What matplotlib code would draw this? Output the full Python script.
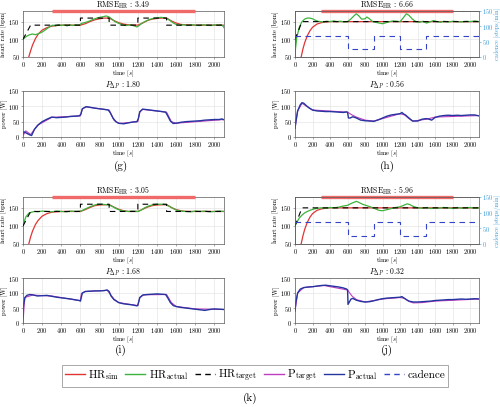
import matplotlib
matplotlib.use("Agg")
import matplotlib.pyplot as plt
from matplotlib.lines import Line2D

plt.rcParams['font.family'] = 'cmr10'
plt.rcParams['mathtext.fontset'] = 'cm'
plt.rcParams['axes.formatter.use_mathtext'] = True

# ---------------------------------------------------------------
# data
# ---------------------------------------------------------------
region_t = [300, 1800]          # red bar on top of HR plots
cad_t = [0, 600, 600, 900, 900, 1200, 1200, 1500, 1500, 2100]
cad_v = [70, 70, 25, 25, 70, 70, 25, 25, 70, 70]

titles_hr = ['3.49', '6.66', '3.05', '5.96']
titles_p = ['1.80', '0.56', '1.68', '0.32']
sub_labels = ['(g)', '(h)', '(i)', '(j)']

# targets
step_t = [0, 80, 600, 600, 900, 900, 1200, 1200, 1500, 1500, 2100]
step_v = [100, 140, 140, 160, 160, 140, 140, 160, 160, 140, 140]
flat_t = [0, 80, 2100]
flat_v = [100, 150, 150]

# (g)
g_sim_t = [40, 60, 80, 100, 130, 160, 200, 250, 300, 350,
           400, 500, 600, 650, 700, 750, 800, 850, 900, 950,
           1000, 1050, 1100, 1200, 1250, 1300, 1350, 1400, 1450, 1500,
           1550, 1600, 1650, 1700, 1800, 2100]
g_sim = [30, 50, 68, 84, 102, 115, 126, 133, 137, 139,
         140, 140, 140, 144, 150, 155, 158, 160, 160, 153,
         147, 143, 141, 140, 146, 153, 157, 159, 160, 160,
         152, 146, 142, 141, 140, 140]
g_act_t = [0, 0, 15, 40, 70, 100, 130, 160, 190, 220,
           250, 280, 310, 340, 370, 400, 430, 460, 490, 520,
           550, 580, 600, 610, 640, 680, 720, 760, 800, 840,
           870, 900, 930, 960, 1000, 1040, 1080, 1120, 1160, 1190,
           1210, 1240, 1280, 1320, 1360, 1400, 1440, 1480, 1510, 1540,
           1570, 1600, 1640, 1680, 1720, 1760, 1800, 1840, 1880, 1920,
           1960, 2000, 2040, 2070, 2090, 2100]
g_act = [50, 100, 104, 109, 113, 115, 113, 116, 119, 124,
         130, 136, 140, 138, 141, 139, 141, 138, 141, 139,
         141, 140, 142, 145, 147, 150, 155, 159, 162, 164,
         166, 163, 157, 150, 145, 141, 139, 141, 138, 135,
         138, 145, 151, 156, 159, 161, 162, 161, 158, 152,
         146, 142, 140, 141, 139, 141, 140, 139, 141, 140,
         139, 141, 140, 141, 137, 133]
g_pa_t = [0, 10, 40, 70, 90, 120, 160, 200, 250, 300,
          350, 400, 450, 500, 550, 590, 605, 620, 660, 700,
          750, 800, 850, 890, 910, 940, 970, 1000, 1050, 1100,
          1150, 1190, 1205, 1220, 1250, 1300, 1350, 1400, 1450, 1490,
          1510, 1540, 1570, 1600, 1650, 1700, 1750, 1800, 1850, 1900,
          1950, 2000, 2050, 2080, 2100]
g_pa = [12, 17, 12, 7, 5, 25, 40, 50, 58, 65,
        63, 64, 65, 67, 68, 69, 75, 92, 99, 97,
        94, 92, 90, 88, 80, 62, 50, 45, 43, 46,
        49, 50, 60, 82, 91, 89, 87, 85, 83, 81,
        70, 52, 44, 45, 48, 50, 51, 52, 53, 55,
        56, 57, 57, 59, 56]
g_pt_t = [0, 30, 80, 150, 300, 600, 620, 660, 900, 950,
          1000, 1200, 1220, 1250, 1500, 1550, 1600, 2100]
g_pt = [5, 20, 8, 38, 64, 69, 92, 98, 88, 55,
        44, 50, 82, 90, 81, 50, 45, 57]

# (h)
h_sim_t = [50, 70, 90, 110, 140, 170, 200, 250, 300, 350, 400, 500, 2100]
h_sim = [30, 50, 72, 90, 110, 124, 134, 143, 147, 149, 150, 150, 150]
h_act_t = [0, 0, 20, 50, 80, 110, 140, 170, 200, 230,
           260, 290, 320, 360, 400, 440, 480, 520, 560, 600,
           640, 680, 700, 730, 760, 800, 820, 850, 880, 920,
           960, 1000, 1040, 1080, 1120, 1160, 1200, 1240, 1270, 1300,
           1340, 1380, 1420, 1460, 1500, 1540, 1580, 1620, 1660, 1700,
           1750, 1800, 1850, 1900, 1950, 2000, 2050, 2100]
h_act = [50, 60, 105, 135, 150, 157, 160, 160, 158, 154,
         151, 150, 149, 151, 150, 152, 150, 151, 149, 150,
         158, 168, 172, 166, 157, 158, 163, 158, 151, 148,
         146, 144, 147, 150, 152, 151, 150, 162, 172, 168,
         157, 150, 148, 151, 146, 149, 153, 150, 148, 151,
         149, 151, 150, 149, 151, 150, 152, 150]
h_pa_t = [0, 10, 30, 60, 80, 100, 130, 160, 200, 250,
          300, 350, 400, 450, 500, 550, 590, 600, 610, 630,
          660, 700, 750, 800, 850, 900, 950, 1000, 1050, 1100,
          1150, 1200, 1220, 1240, 1260, 1300, 1340, 1400, 1450, 1500,
          1530, 1560, 1600, 1650, 1700, 1750, 1800, 1850, 1900, 1950,
          2000, 2050, 2080, 2100]
h_pa = [28, 50, 85, 105, 112, 110, 102, 95, 88, 85,
        84, 83, 83, 82, 81, 80, 82, 80, 62, 62,
        66, 62, 55, 53, 52, 51, 56, 62, 68, 72,
        74, 76, 80, 75, 72, 62, 52, 52, 58, 60,
        58, 55, 64, 68, 70, 71, 70, 71, 70, 71,
        72, 72, 70, 69]
h_pt_t = [0, 30, 80, 200, 600, 650, 700, 800, 900, 1200,
          1250, 1300, 1350, 1500, 1600, 2100]
h_pt = [28, 85, 110, 88, 81, 72, 65, 55, 52, 76,
        72, 60, 52, 58, 65, 70]

# (i)
i_sim_t = [40, 60, 80, 100, 130, 160, 200, 250, 300, 350,
           400, 600, 650, 700, 750, 800, 900, 950, 1000, 1050,
           1100, 1200, 1250, 1300, 1350, 1400, 1500, 1550, 1600, 1650,
           1700, 2100]
i_sim = [30, 50, 70, 86, 104, 116, 127, 134, 138, 139,
         140, 140, 145, 151, 156, 158, 159, 152, 146, 142,
         140, 140, 146, 152, 156, 158, 159, 151, 145, 142,
         140, 140]
i_act_t = [0, 0, 10, 30, 60, 90, 120, 150, 200, 250,
           300, 350, 400, 450, 500, 550, 600, 620, 660, 700,
           740, 780, 820, 860, 900, 940, 980, 1020, 1060, 1100,
           1150, 1200, 1230, 1270, 1310, 1350, 1400, 1450, 1490, 1530,
           1570, 1610, 1650, 1700, 1750, 1800, 1850, 1900, 1950, 2000,
           2050, 2100]
i_act = [50, 100, 110, 125, 135, 138, 140, 139, 141, 140,
         139, 141, 140, 139, 141, 140, 141, 143, 148, 153,
         157, 160, 160, 159, 158, 153, 147, 143, 141, 140,
         141, 140, 143, 150, 155, 158, 160, 160, 159, 154,
         148, 143, 141, 140, 139, 141, 140, 141, 139, 140,
         141, 140]
i_pa_t = [0, 5, 20, 40, 70, 100, 150, 200, 250, 300,
          350, 400, 450, 500, 550, 590, 600, 620, 650, 700,
          750, 800, 850, 880, 900, 920, 950, 1000, 1050, 1100,
          1150, 1190, 1200, 1220, 1250, 1300, 1350, 1400, 1450, 1490,
          1510, 1540, 1570, 1600, 1650, 1700, 1750, 1800, 1850, 1900,
          1950, 2000, 2050, 2100]
i_pa = [20, 60, 85, 92, 95, 94, 90, 91, 92, 89,
        86, 84, 82, 80, 77, 75, 73, 100, 105, 106,
        107, 107, 108, 110, 105, 90, 78, 68, 64, 62,
        60, 57, 60, 85, 93, 95, 96, 97, 96, 95,
        85, 68, 58, 55, 52, 50, 48, 46, 44, 42,
        45, 47, 46, 45]
i_pt_t = [0, 10, 20, 100, 300, 600, 610, 650, 880, 950,
          1000, 1200, 1220, 1260, 1500, 1550, 1600, 1800, 2100]
i_pt = [0, 50, 85, 93, 90, 74, 98, 105, 109, 80,
        68, 58, 84, 94, 95, 68, 55, 47, 45]

# (j)
j_act_t = [0, 0, 20, 50, 80, 110, 140, 180, 220, 260,
           300, 350, 400, 450, 500, 550, 600, 640, 680, 700,
           730, 770, 820, 870, 920, 960, 1000, 1050, 1100, 1150,
           1200, 1250, 1280, 1310, 1350, 1400, 1450, 1500, 1550, 1600,
           1650, 1700, 1750, 1800, 1850, 1900, 1950, 2000, 2050, 2100]
j_act = [50, 100, 110, 122, 130, 136, 140, 144, 147, 149,
         150, 149, 151, 150, 152, 155, 157, 162, 166, 168,
         165, 160, 156, 152, 147, 143, 142, 145, 148, 151,
         153, 158, 161, 159, 154, 150, 149, 151, 148, 150,
         149, 151, 150, 148, 151, 149, 150, 151, 149, 150]
j_pa_t = [0, 10, 30, 60, 100, 150, 200, 250, 300, 350,
          400, 450, 500, 550, 590, 600, 605, 620, 640, 660,
          700, 750, 800, 850, 900, 950, 1000, 1050, 1100, 1150,
          1200, 1220, 1240, 1270, 1300, 1350, 1400, 1450, 1500, 1550,
          1600, 1650, 1700, 1750, 1800, 1850, 1900, 1950, 2000, 2050,
          2100]
j_pa = [40, 70, 100, 113, 118, 120, 121, 123, 125, 126,
        124, 122, 120, 117, 113, 110, 62, 70, 80, 82,
        76, 72, 70, 71, 74, 78, 81, 83, 84, 85,
        86, 88, 84, 78, 73, 70, 70, 71, 72, 73,
        75, 76, 77, 78, 78, 79, 80, 79, 80, 81,
        80]
j_pt_t = [0, 30, 100, 330, 600, 650, 700, 800, 1000, 1200,
          1250, 1300, 1350, 1450, 1600, 2100]
j_pt = [40, 100, 118, 125, 110, 90, 78, 70, 80, 85,
        82, 72, 67, 68, 73, 80]

# ---------------------------------------------------------------
# style
# ---------------------------------------------------------------
C_SIM = '#e03535'
C_ACT = '#3cb43c'
C_PT = '#c03cc0'
C_PA = '#2535a0'
C_CAD = '#3545c8'
C_AX2 = '#3d9bd6'
BAR = '#f06a6a'

FS_TICK = 4.6
FS_LAB = 4.6
FS_TIT = 5.6

W = 500.0
H = 407.0


def box(x0, y0, x1, y1):
    return [x0 / W, 1 - y1 / H, (x1 - x0) / W, (y1 - y0) / H]


def style(ax):
    ax.set_xlim(0, 2100)
    ax.set_xticks(range(0, 2001, 200))
    ax.grid(True, color='0.88', lw=0.4)
    ax.set_axisbelow(True)
    ax.tick_params(labelsize=FS_TICK, length=1.5, width=0.4, pad=0.8,
                   color='0.4')
    for s in ax.spines.values():
        s.set_linewidth(0.5)
        s.set_color('0.35')
    ax.set_xlabel('time [$s$]', fontsize=FS_LAB, labelpad=0)


fig = plt.figure(figsize=(5, 4.07), dpi=100)

cols = [(23, 224), (295, 479)]
rows = [((11, 57), (91, 137)), ((197, 244), (278, 323))]

panels = [
    (g_sim_t, g_sim, g_act_t, g_act, step_t, step_v, g_pt_t, g_pt, g_pa_t, g_pa, False),
    (h_sim_t, h_sim, h_act_t, h_act, flat_t, flat_v, h_pt_t, h_pt, h_pa_t, h_pa, True),
    (i_sim_t, i_sim, i_act_t, i_act, step_t, step_v, i_pt_t, i_pt, i_pa_t, i_pa, False),
    (h_sim_t, h_sim, j_act_t, j_act, flat_t, flat_v, j_pt_t, j_pt, j_pa_t, j_pa, True),
]

for k, p in enumerate(panels):
    st, sv, at, av, tt, tv, ptt, ptv, pat, pav, has_cad = p
    x0, x1 = cols[k % 2]
    (hy0, hy1), (py0, py1) = rows[k // 2]

    ax = fig.add_axes(box(x0, hy0, x1, hy1))
    style(ax)
    ax.set_ylim(50, 180)
    ax.set_yticks([50, 100, 150])
    ax.set_ylabel('heart rate [bpm]', fontsize=FS_LAB, labelpad=1)
    ax.plot(region_t, [180, 180], color=BAR, lw=2.4, clip_on=False,
            solid_capstyle='butt', zorder=5)
    if has_cad:
        ax2 = ax.twinx()
        ax2.set_ylim(0, 150)
        ax2.set_yticks([0, 50, 100, 150])
        ax2.plot(cad_t, cad_v, color=C_CAD, lw=0.8, ls=(0, (5, 4)))
        ax2.tick_params(labelsize=FS_TICK, length=1.5, width=0.4, pad=0.8,
                        colors=C_AX2)
        ax2.set_ylabel('cadence [steps/min]', fontsize=4.4, labelpad=0.5,
                       color=C_AX2)
        for s in ax2.spines.values():
            s.set_linewidth(0.5)
            s.set_color('0.35')
        ax2.spines['right'].set_color(C_AX2)
    ax.plot(st, sv, color=C_SIM, lw=0.9, zorder=3)
    ax.plot(at, av, color=C_ACT, lw=0.9, zorder=4)
    ax.plot(tt, tv, color='k', lw=0.8, ls=(0, (5, 4)), zorder=4)
    ax.set_title(r'RMSE$_{\rm HR}$ : ' + titles_hr[k], fontsize=FS_TIT, pad=1.2)

    axp = fig.add_axes(box(x0, py0, x1, py1))
    style(axp)
    axp.set_ylim(0, 150)
    axp.set_yticks([0, 50, 100, 150])
    axp.set_ylabel('power [W]', fontsize=FS_LAB, labelpad=1)
    axp.plot(ptt, ptv, color=C_PT, lw=0.8)
    axp.plot(pat, pav, color=C_PA, lw=1.0)
    axp.set_title(r'$P_{\Delta P}$ : ' + titles_p[k], fontsize=FS_TIT, pad=0.3)

    lx = (121 if k % 2 == 0 else 387) / W
    ly = 1 - (166 if k < 2 else 350) / H
    fig.text(lx, ly, sub_labels[k], ha='center', va='center', fontsize=8)

handles = [
    Line2D([], [], color=C_SIM, lw=1.0),
    Line2D([], [], color=C_ACT, lw=1.0),
    Line2D([], [], color='k', lw=1.0, ls=(0, (4, 3))),
    Line2D([], [], color=C_PT, lw=1.0),
    Line2D([], [], color=C_PA, lw=1.0),
    Line2D([], [], color=C_CAD, lw=1.0, ls=(0, (4, 3))),
]
labels = [r'HR$_{\rm sim}$', r'HR$_{\rm actual}$', r'HR$_{\rm target}$',
          r'P$_{\rm target}$', r'P$_{\rm actual}$', 'cadence']
fig.legend(handles, labels, ncol=6, loc='center',
           bbox_to_anchor=(255 / W, 1 - 376 / H), fontsize=8,
           frameon=True, fancybox=False, edgecolor='0.5',
           handlelength=1.8, handletextpad=0.3, columnspacing=0.6,
           borderpad=0.25).get_frame().set_linewidth(0.6)
fig.text(250 / W, 1 - 398 / H, '(k)', ha='center', va='center', fontsize=8)

fig.savefig('out.png', dpi=100)
